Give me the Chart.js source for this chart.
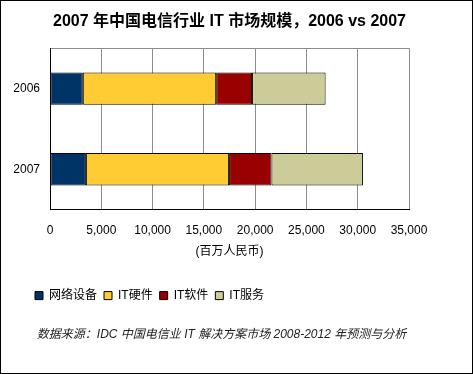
<!DOCTYPE html>
<html>
<head>
    <meta charset="utf-8">
    <title>2007 年中国电信行业 IT 市场规模</title>
    <script src="https://cdn.jsdelivr.net/npm/chart.js"></script>
    <style>
        body { margin: 0; background: #fff; }
        #frame { width: 471px; height: 372px; border: 1px solid #000; }
    </style>
    <script>
        // 百万人民币
        const years = ['2006', '2007'];
        const network = [3200, 3500];
        const hardware = [13000, 13960];
        const software = [3500, 4130];
        const services = [7170, 8920];

        const seriesNames = ['网络设备', 'IT硬件', 'IT软件', 'IT服务'];
        const seriesColors = ['#003366', '#FFCC33', '#990000', '#CCCC99'];

        const xTicks = [0, 5000, 10000, 15000, 20000, 25000, 30000, 35000];

        const fontFamily = "'Liberation Sans', 'Noto Sans CJK SC', Arial, sans-serif";

        // legend starts a bit in from the left edge, like the original
        const legendShift = {
            id: 'legendShift',
            afterLayout(chart) {
                chart.legend.left = 27;
            }
        };

        document.addEventListener('DOMContentLoaded', function() {
            const values = [network, hardware, software, services];
            const datasets = values.map((v, i) => ({
                label: seriesNames[i],
                data: v,
                backgroundColor: seriesColors[i],
                borderColor: '#000',
                borderWidth: 1,
                borderSkipped: false,
                barPercentage: 0.4,
                categoryPercentage: 1
            }));

            Chart.defaults.font.family = fontFamily;
            Chart.defaults.color = '#000';

            const ctx = document.getElementById('marketChart').getContext('2d');
            new Chart(ctx, {
                type: 'bar',
                data: { labels: years, datasets: datasets },
                plugins: [legendShift],
                options: {
                    indexAxis: 'y',
                    responsive: false,
                    animation: false,
                    locale: 'en-US',
                    layout: { padding: { left: 0, right: 30, top: 0, bottom: 0 } },
                    scales: {
                        x: {
                            stacked: true,
                            min: xTicks[0],
                            max: xTicks[xTicks.length - 1],
                            afterBuildTicks: function(scale) {
                                scale.ticks = xTicks.map(v => ({ value: v }));
                            },
                            afterFit: function(scale) { scale.height = 73; },
                            grid: { color: '#8c8c8c', drawTicks: false },
                            border: { color: '#000', width: 1 },
                            ticks: { padding: 14, font: { size: 12 }, maxRotation: 0 },
                            title: {
                                display: true,
                                text: '(百万人民币)',
                                font: { size: 12 },
                                padding: { top: 24, bottom: 24 }
                            }
                        },
                        y: {
                            stacked: true,
                            afterFit: function(scale) { scale.width = 49; },
                            grid: {
                                offset: true,
                                drawTicks: false,
                                color: c => c.index === 0 ? '#8c8c8c' : 'transparent'
                            },
                            border: { color: '#000', width: 1 },
                            ticks: { padding: 10, font: { size: 12 } }
                        },
                        // empty right axis, only keeps the gap right of the plot
                        y2: {
                            type: 'category',
                            position: 'right',
                            labels: years,
                            afterFit: function(scale) { scale.width = 33; },
                            grid: { display: false },
                            border: { display: false },
                            ticks: { display: false }
                        }
                    },
                    plugins: {
                        title: {
                            display: true,
                            fullSize: false,
                            text: '2007 年中国电信行业 IT 市场规模，2006 vs 2007',
                            font: { size: 16, weight: 'bold' },
                            color: '#000',
                            padding: { top: 11, bottom: 17 }
                        },
                        legend: {
                            position: 'bottom',
                            align: 'start',
                            labels: {
                                boxWidth: 8,
                                boxHeight: 8,
                                padding: 7,
                                font: { size: 12 },
                                color: '#000'
                            }
                        },
                        subtitle: {
                            display: true,
                            position: 'bottom',
                            text: '数据来源：IDC 中国电信业 IT 解决方案市场 2008-2012 年预测与分析',
                            font: { size: 12, style: 'italic' },
                            color: '#222',
                            padding: { top: 16, bottom: 31 }
                        },
                        tooltip: { enabled: false }
                    }
                }
            });
        });
    </script>
</head>
<body>
<div id="frame"><canvas id="marketChart" width="471" height="372"></canvas></div>
</body>
</html>
